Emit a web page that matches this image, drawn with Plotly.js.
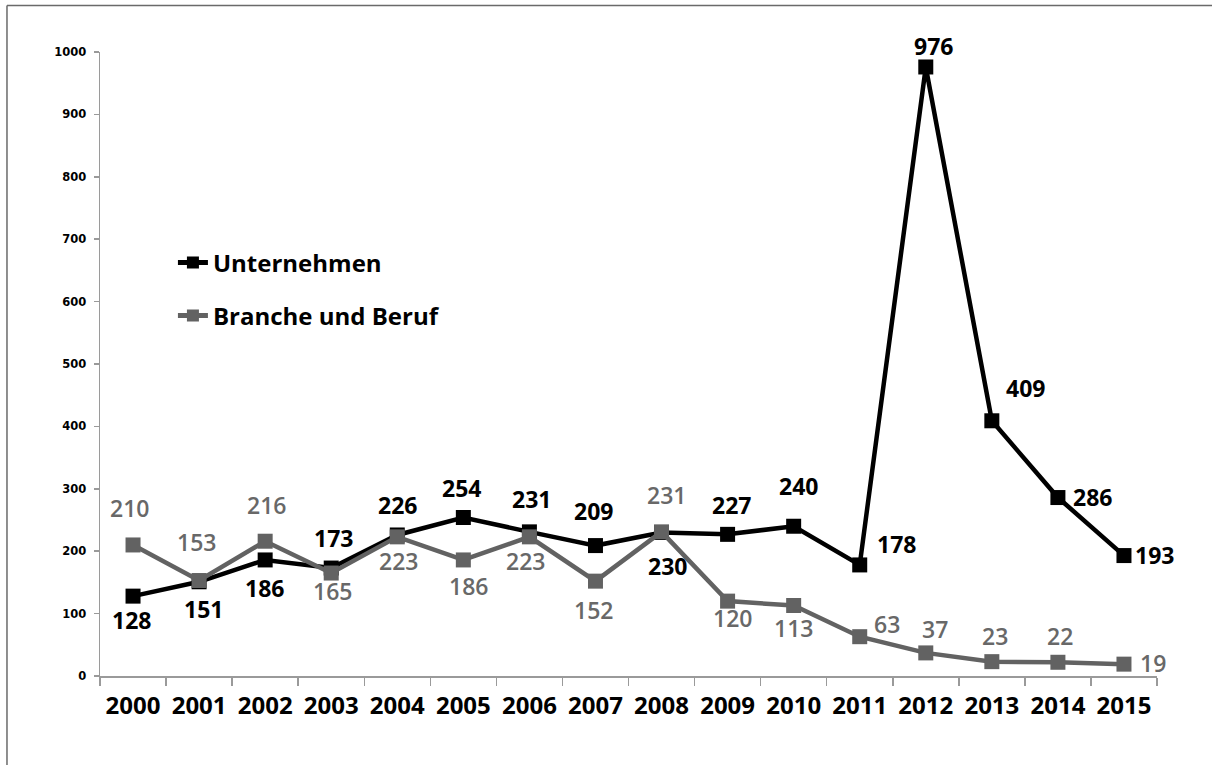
<!DOCTYPE html>
<html>
<head>
<meta charset="utf-8">
<script src="https://cdn.plot.ly/plotly-3.0.1.min.js"></script>
<style>
  html, body { margin: 0; padding: 0; background: #fff; overflow: hidden; }
  #chart { width: 1212px; height: 765px; }
  #edge { position: fixed; right: 0; top: 10px; width: 4px; height: 800px; background: #fff; z-index: 10; }
</style>
</head>
<body>
<div id="chart"></div>
<div id="edge"></div>
<script>
// ---- data ----
const years = ['2000','2001','2002','2003','2004','2005','2006','2007','2008','2009','2010','2011','2012','2013','2014','2015'];
const unternehmen = [128,151,186,173,226,254,231,209,230,227,240,178,976,409,286,193];
const brancheUndBeruf = [210,153,216,165,223,186,223,152,231,120,113,63,37,23,22,19];
const seriesNames = ['Unternehmen', 'Branche und Beruf'];
const yTicks = [0,100,200,300,400,500,600,700,800,900,1000];

// ---- label placement (style: pixel offsets of each value label from its point, dy down) ----
const unternehmenLabelOffset = [[-2,25],[4,28],[-1,29],[2,-29],[0,-29],[-2,-29],[2,-32],[-2,-34],[6,35],[4,-28],[5,-39],[37,-20],[8,-20],[34,-32],[35,0],[31,0]];
const brancheLabelOffset = [[-4,-36],[-3,-38],[1,-35],[1,19],[1,25],[5,27],[-4,25],[-2,30],[5,-36],[5,18],[0,24],[27,-12],[9,-23],[3,-25],[2,-25],[29,0]];

const BLACK = '#000000';
const GRAY = '#626262';
const LABEL_GRAY = '#686868';
const FONT = 'Open Sans, Lato, sans-serif';
const VCORR = 1;

function makeLabels(vals, offs, color, weight) {
  return vals.map((v, i) => ({
    x: i, y: v, xref: 'x', yref: 'y',
    text: String(v), showarrow: false,
    xanchor: 'center', yanchor: 'middle',
    xshift: offs[i][0], yshift: -offs[i][1] + VCORR,
    font: { family: FONT, size: 23, color: color, weight: weight }
  }));
}

const traces = [
  {
    x: years, y: unternehmen, name: seriesNames[0], type: 'scatter', mode: 'lines+markers',
    line: { color: BLACK, width: 4.5 },
    marker: { symbol: 'square', size: 15, color: BLACK },
    legend: 'legend', cliponaxis: false
  },
  {
    x: years, y: brancheUndBeruf, name: seriesNames[1], type: 'scatter', mode: 'lines+markers',
    line: { color: GRAY, width: 4.5 },
    marker: { symbol: 'square', size: 15, color: GRAY },
    legend: 'legend2', cliponaxis: false
  }
];

const legendFont = { family: FONT, size: 24, color: '#000', weight: 'bold' };
const frameLine = { color: '#6a6a6a', width: 1.5 };

const layout = {
  width: 1212, height: 765,
  margin: { l: 100, r: 55, t: 52, b: 89 },
  paper_bgcolor: '#ffffff', plot_bgcolor: '#ffffff',
  showlegend: true,
  legend: { x: 0.069, y: 0.662, xanchor: 'left', yanchor: 'middle', bgcolor: 'rgba(0,0,0,0)',
            font: legendFont, itemsizing: 'constant' },
  legend2: { x: 0.069, y: 0.577, xanchor: 'left', yanchor: 'middle', bgcolor: 'rgba(0,0,0,0)',
             font: legendFont, itemsizing: 'constant' },
  xaxis: {
    type: 'category', range: [-0.5, years.length - 0.5],
    showline: true, linecolor: '#9a9a9a', linewidth: 1.5,
    showgrid: false, zeroline: false,
    ticks: 'outside', tickson: 'boundaries', ticklen: 8, tickcolor: '#9a9a9a', tickwidth: 1.5,
    tickfont: { family: FONT, size: 24, color: '#000', weight: 'bold' },
    ticklabelstandoff: 8
  },
  yaxis: {
    range: [0, 1000], tickvals: yTicks, ticktext: yTicks.map(String),
    showline: true, linecolor: '#9a9a9a', linewidth: 1.5,
    showgrid: false, zeroline: false,
    ticks: 'outside', ticklen: 5, tickcolor: '#9a9a9a', tickwidth: 1.5,
    tickfont: { family: 'DejaVu Sans, Verdana, sans-serif', size: 11.5, color: '#000', weight: 'bold' },
    ticklabelstandoff: 5
  },
  shapes: [
    { type: 'line', xref: 'paper', yref: 'paper', x0: -0.088, x1: -0.088, y0: -0.2, y1: 1.0745, line: frameLine },
    { type: 'line', xref: 'paper', yref: 'paper', x0: -0.088, x1: 1.1, y0: 1.0745, y1: 1.0745, line: frameLine }
  ],
  annotations: makeLabels(unternehmen, unternehmenLabelOffset, '#000', 'bold')
    .concat(makeLabels(brancheUndBeruf, brancheLabelOffset, LABEL_GRAY, 600))
};

Plotly.newPlot('chart', traces, layout, { displayModeBar: false, staticPlot: true });
</script>
</body>
</html>
